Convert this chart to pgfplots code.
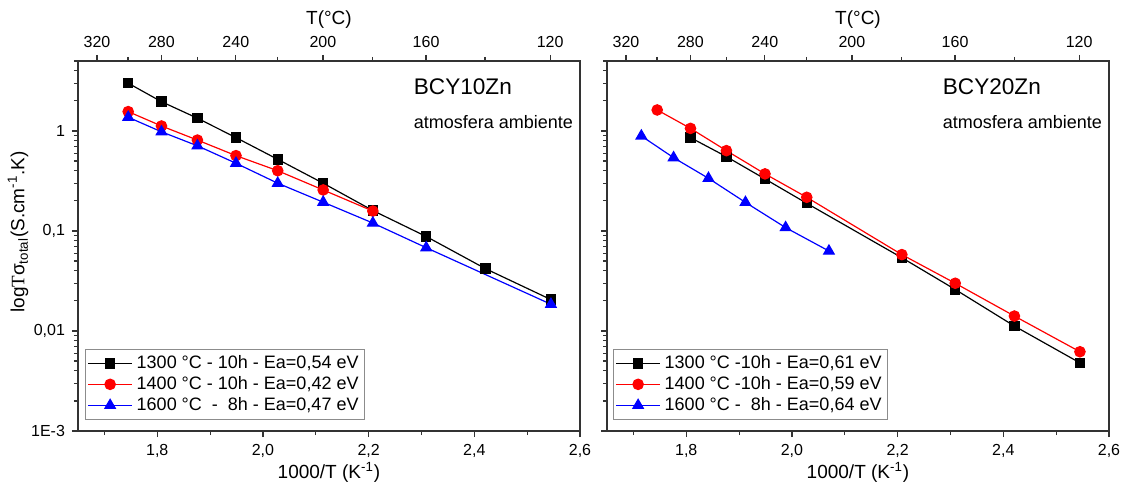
\documentclass[border=0pt]{standalone}
\usepackage{pgfplots}
\pgfplotsset{compat=1.18}
\usepackage{fontspec}
\setmainfont{Liberation Sans}
\newfontfamily\serifT{Liberation Serif}

\pgfplotsset{
  mybaseaxis/.style={
    width=251pt, height=185pt, scale only axis,
    xmin=1.65, xmax=2.6,
    ymin=1e-3, ymax=5,
    axis line style={line width=0.8pt, black!80},
    tick style={black!80, line width=0.6pt},
    tick align=outside,
    major tick length=3pt, minor tick length=2pt,
    xtick={1.8,2.0,2.2,2.4,2.6},
    xticklabels={{1,8},{2,0},{2,2},{2,4},{2,6}},
    minor xtick={1.7,1.9,2.1,2.3,2.5},
    xtick pos=bottom, ytick pos=left,
    ytick={0.001,0.01,0.1,1},
    minor ytick={0.002,0.003,0.004,0.005,0.006,0.007,0.008,0.009,
                 0.02,0.03,0.04,0.05,0.06,0.07,0.08,0.09,
                 0.2,0.3,0.4,0.5,0.6,0.7,0.8,0.9,2,3,4,5},
    tick label style={font=\fontsize{8}{9.6}\selectfont},
    label style={font=\fontsize{9.5}{11}\selectfont},
    xlabel={1000/T (K\textsuperscript{-1})},
    xlabel style={yshift=4.5pt},
    legend style={draw=black!45, line width=0.5pt, anchor=south west,
      font=\fontsize{9}{10.5}\selectfont, inner sep=1pt, row sep=-1.5pt},
    legend cell align=left,
    legend image code/.code={\draw[mark repeat=2,mark phase=2]
      plot coordinates {(0pt,0pt) (11pt,0pt) (22pt,0pt)};},
  },
  mytopaxis/.style={
    width=251pt, height=185pt, scale only axis,
    xmin=1.65, xmax=2.6, ymin=0, ymax=1,
    axis x line*=top, axis y line=none,
    axis line style={line width=0.8pt, black!80},
    tick style={black!80, line width=0.6pt},
    tick align=outside,
    major tick length=3pt, minor tick length=2pt,
    xtick={1.6859,1.8078,1.9487,2.1135,2.3087,2.5436},
    xticklabels={320,280,240,200,160,120},
    minor xtick={1.7447,1.8756,2.0278,2.2068,2.4204},
    tick label style={font=\fontsize{8}{9.6}\selectfont},
    label style={font=\fontsize{9.5}{11}\selectfont},
    xlabel={T(°C)},
    xlabel style={yshift=-3pt},
  },
}
\tikzset{
  mysq/.style={black, line width=0.6pt, mark=square*, mark size=2.3pt, mark options={solid, fill=black}},
  myci/.style={red, line width=0.6pt, mark=*, mark size=2.6pt, mark options={solid, fill=red}},
  mytr/.style={blue, line width=0.6pt, mark=triangle*, mark size=3pt, mark options={solid, fill=blue}},
}

\begin{document}
\begin{tikzpicture}
\path[use as bounding box] (-39pt,-29pt) rectangle (523pt,215.5pt);

% ---------------- left panel ----------------
\begin{semilogyaxis}[mybaseaxis, at={(0pt,0pt)}, anchor=south west,
  yticklabels={1E-3,{0,01},{0,1},1},
  ylabel={log{\serifT T}σ\textsubscript{total}(S.cm\textsuperscript{-1}.K)},
  ylabel style={yshift=-5.5pt, xshift=7pt},
  legend style={at={(0.014,0.03)}}]
\addplot[mysq] coordinates {
(1.745,3.0) (1.808,1.96) (1.876,1.34) (1.949,0.857) (2.028,0.52)
(2.114,0.30) (2.208,0.16) (2.309,0.088) (2.421,0.042) (2.545,0.0206)};
\addlegendentry{1300 °C - 10h - Ea=0,54 eV}
\addplot[myci] coordinates {
(1.745,1.56) (1.808,1.12) (1.876,0.81) (1.949,0.566) (2.028,0.40)
(2.114,0.257) (2.208,0.158)};
\addlegendentry{1400 °C - 10h - Ea=0,42 eV}
\addplot[mytr] coordinates {
(1.745,1.37) (1.808,0.98) (1.876,0.71) (1.949,0.475) (2.028,0.30)
(2.114,0.194) (2.208,0.12) (2.309,0.068) (2.545,0.0185)};
\addlegendentry{1600 °C \ - \ 8h - Ea=0,47 eV}
\node[anchor=west, font=\fontsize{11.3}{13}\selectfont] at (rel axis cs:0.655,0.93) {BCY10Zn};
\node[anchor=west, font=\fontsize{9}{11}\selectfont] at (rel axis cs:0.655,0.835) {atmosfera ambiente};
\end{semilogyaxis}
\begin{axis}[mytopaxis, at={(0pt,0pt)}, anchor=south west]
\end{axis}

% ---------------- right panel ----------------
\begin{semilogyaxis}[mybaseaxis, at={(264.5pt,0pt)}, anchor=south west,
  yticklabels={},
  legend style={at={(0.012,0.03)}}]
\addplot[mysq] coordinates {
(1.808,0.857) (1.876,0.553) (1.949,0.331) (2.028,0.189)
(2.208,0.054) (2.309,0.026) (2.421,0.0112) (2.545,0.0048)};
\addlegendentry{1300 °C -10h - Ea=0,61 eV}
\addplot[myci] coordinates {
(1.745,1.62) (1.808,1.06) (1.876,0.635) (1.949,0.372) (2.028,0.217)
(2.208,0.058) (2.309,0.030) (2.421,0.0141) (2.545,0.0062)};
\addlegendentry{1400 °C -10h - Ea=0,59 eV}
\addplot[mytr] coordinates {
(1.715,0.89) (1.776,0.54) (1.842,0.336) (1.912,0.193) (1.988,0.108) (2.070,0.063)};
\addlegendentry{1600 °C - \ 8h - Ea=0,64 eV}
\node[anchor=west, font=\fontsize{11.3}{13}\selectfont] at (rel axis cs:0.655,0.93) {BCY20Zn};
\node[anchor=west, font=\fontsize{9}{11}\selectfont] at (rel axis cs:0.655,0.835) {atmosfera ambiente};
\end{semilogyaxis}
\begin{axis}[mytopaxis, at={(264.5pt,0pt)}, anchor=south west]
\end{axis}
\end{tikzpicture}
\end{document}
